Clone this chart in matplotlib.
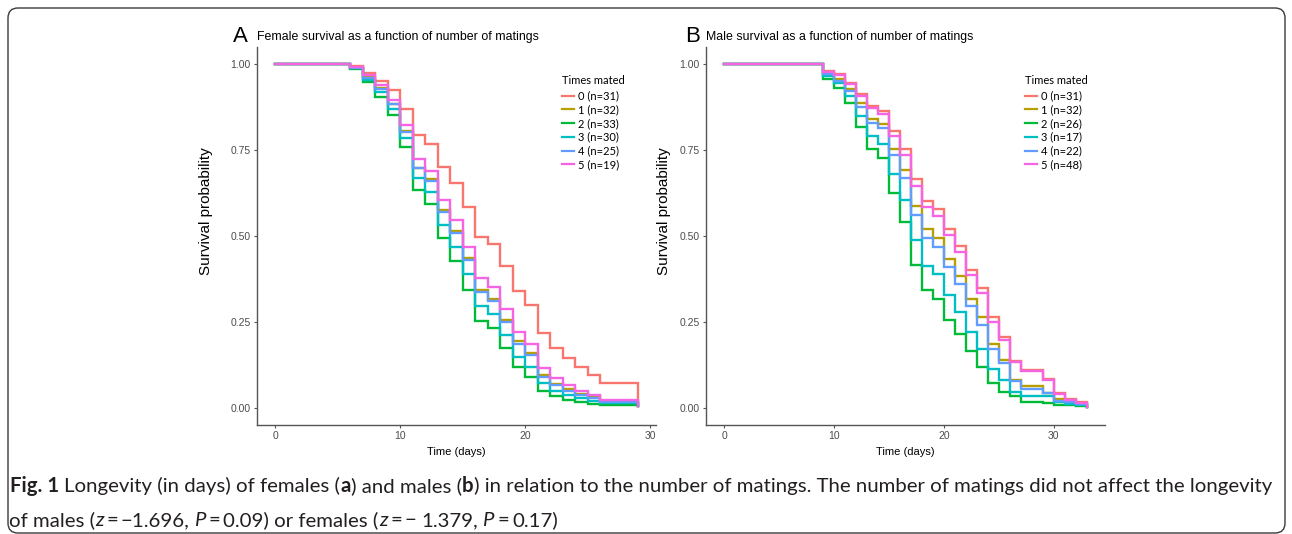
import matplotlib
matplotlib.use("Agg")
import matplotlib.pyplot as plt
from matplotlib.lines import Line2D
from matplotlib.patches import FancyBboxPatch
from matplotlib.transforms import IdentityTransform
from matplotlib.font_manager import FontProperties

# ---- data ----
groups = ["0", "1", "2", "3", "4", "5"]
female_labels = ["0 (n=31)", "1 (n=32)", "2 (n=33)", "3 (n=30)", "4 (n=25)", "5 (n=19)"]
male_labels = ["0 (n=31)", "1 (n=32)", "2 (n=26)", "3 (n=17)", "4 (n=22)", "5 (n=48)"]

female_days = [0, 6, 7, 8, 9, 10, 11, 12, 13, 14, 15, 16, 17, 18, 19, 20, 21, 22, 23, 24, 25, 26, 29]
female_surv = {
    "0": [1.0, 0.995, 0.973, 0.951, 0.924, 0.869, 0.794, 0.767, 0.700, 0.653, 0.583, 0.498, 0.477,
          0.414, 0.340, 0.299, 0.217, 0.173, 0.146, 0.118, 0.096, 0.072, 0.005],
    "1": [1.0, 0.990, 0.962, 0.930, 0.885, 0.805, 0.699, 0.666, 0.575, 0.515, 0.435, 0.343, 0.317,
          0.256, 0.193, 0.159, 0.096, 0.069, 0.054, 0.040, 0.033, 0.018, 0.005],
    "2": [1.0, 0.985, 0.949, 0.905, 0.852, 0.760, 0.634, 0.592, 0.495, 0.427, 0.343, 0.253, 0.232,
          0.173, 0.118, 0.091, 0.049, 0.033, 0.023, 0.016, 0.011, 0.009, 0.005],
    "3": [1.0, 0.988, 0.955, 0.918, 0.871, 0.784, 0.668, 0.629, 0.532, 0.469, 0.389, 0.297, 0.272,
          0.212, 0.149, 0.120, 0.072, 0.049, 0.038, 0.028, 0.020, 0.014, 0.005],
    "4": [1.0, 0.990, 0.960, 0.928, 0.884, 0.803, 0.697, 0.661, 0.570, 0.510, 0.430, 0.338, 0.312,
          0.250, 0.185, 0.154, 0.091, 0.065, 0.050, 0.036, 0.028, 0.016, 0.005],
    "5": [1.0, 0.992, 0.968, 0.940, 0.895, 0.823, 0.724, 0.689, 0.605, 0.547, 0.469, 0.377, 0.353,
          0.288, 0.220, 0.185, 0.115, 0.086, 0.067, 0.049, 0.038, 0.023, 0.005],
}

male_days = [0, 9, 10, 11, 12, 13, 14, 15, 16, 17, 18, 19, 20, 21, 22, 23, 24, 25, 26, 27, 29, 30, 31, 32, 33]
male_surv = {
    "0": [1.0, 0.981, 0.970, 0.946, 0.913, 0.878, 0.863, 0.805, 0.753, 0.665, 0.602, 0.578, 0.520,
          0.472, 0.401, 0.348, 0.263, 0.207, 0.135, 0.109, 0.084, 0.044, 0.026, 0.017, 0.003],
    "1": [1.0, 0.974, 0.958, 0.929, 0.888, 0.840, 0.826, 0.753, 0.692, 0.588, 0.520, 0.495, 0.433,
          0.385, 0.316, 0.263, 0.185, 0.140, 0.081, 0.064, 0.043, 0.025, 0.018, 0.010, 0.003],
    "2": [1.0, 0.958, 0.931, 0.888, 0.818, 0.753, 0.726, 0.624, 0.541, 0.416, 0.343, 0.317, 0.256,
          0.214, 0.164, 0.118, 0.072, 0.047, 0.033, 0.018, 0.014, 0.008, 0.008, 0.006, 0.003],
    "3": [1.0, 0.965, 0.944, 0.907, 0.849, 0.791, 0.769, 0.681, 0.605, 0.488, 0.414, 0.389, 0.328,
          0.280, 0.220, 0.172, 0.113, 0.081, 0.046, 0.035, 0.033, 0.018, 0.012, 0.008, 0.003],
    "4": [1.0, 0.971, 0.952, 0.922, 0.876, 0.829, 0.813, 0.735, 0.668, 0.562, 0.493, 0.467, 0.409,
          0.359, 0.295, 0.241, 0.172, 0.130, 0.079, 0.054, 0.043, 0.021, 0.018, 0.010, 0.003],
    "5": [1.0, 0.978, 0.968, 0.941, 0.907, 0.873, 0.856, 0.791, 0.735, 0.645, 0.585, 0.559, 0.503,
          0.454, 0.387, 0.333, 0.251, 0.198, 0.132, 0.106, 0.081, 0.041, 0.023, 0.014, 0.003],
}

x_ticks = [0, 10, 20, 30]
y_ticks = [0, 0.25, 0.5, 0.75, 1.0]
y_tick_labels = ["0.00", "0.25", "0.50", "0.75", "1.00"]

colors = ["#F8766D", "#B79F00", "#00BA38", "#00BFC4", "#619CFF", "#F564E3"]

W, H = 1292, 534
ARIAL = ["Liberation Sans", "DejaVu Sans"]
MYRIAD = ["Lato", "DejaVu Sans"]
CAPTION = ["Liberation Sans Narrow", "Lato", "DejaVu Sans"]

fig = plt.figure(figsize=(W / 100, H / 100), dpi=100)


def axes_px(left, top, right, bottom):
    return fig.add_axes([left / W, 1 - bottom / H, (right - left) / W, (bottom - top) / H])


def survival_panel(ax, days, surv, labels, xmax, ylab_x, leg_x):
    for g, c in zip(groups, colors):
        ax.step(days, surv[g], where="post", color=c, lw=1.7, solid_joinstyle="miter")
    ax.set_xlim(-0.05 * xmax, 1.05 * xmax)
    ax.set_ylim(-0.05, 1.05)
    ax.set_xticks(x_ticks)
    ax.set_yticks(y_ticks)
    ax.set_yticklabels(y_tick_labels)
    for s in ["top", "right"]:
        ax.spines[s].set_visible(False)
    for s in ["left", "bottom"]:
        ax.spines[s].set_color("#555555")
        ax.spines[s].set_linewidth(1.0)
    ax.tick_params(length=2.5, width=0.8, color="#555555", labelsize=7.5,
                   labelcolor="#4D4D4D", pad=2)
    for t in ax.get_xticklabels() + ax.get_yticklabels():
        t.set_family(ARIAL)
    ax.set_xlabel("Time (days)", fontsize=8, family=ARIAL, color="black")
    ax.xaxis.set_label_coords(0.5, -0.058)
    ax.set_ylabel("Survival probability", fontsize=11, family=ARIAL, color="black")
    ax.yaxis.set_label_coords(ylab_x, 0.565)
    handles = [Line2D([], [], color=c, lw=1.6) for c in colors]
    leg = ax.legend(handles, labels, title="Times mated", loc="upper left",
                    bbox_to_anchor=(leg_x, 0.927), frameon=False, borderaxespad=0,
                    borderpad=0, handlelength=1.1, handletextpad=0.3, labelspacing=0.25,
                    prop={"family": MYRIAD, "size": 8},
                    title_fontproperties={"family": MYRIAD, "size": 8}, alignment="left")
    leg._legend_box.sep = 3.5


axA = axes_px(257, 47, 656, 425)
axB = axes_px(706, 47, 1105, 425)
survival_panel(axA, female_days, female_surv, female_labels, 29, -0.11, 0.765)
survival_panel(axB, male_days, male_surv, male_labels, 33, -0.088, 0.80)

# panel titles
fig.text(233 / W, 1 - 41.5 / H, "A", fontsize=16, family=ARIAL, va="baseline")
fig.text(257 / W, 1 - 40 / H, "Female survival as a function of number of matings",
         fontsize=8.9, family=ARIAL, va="baseline")
fig.text(685 / W, 1 - 41.5 / H, "B", fontsize=16, family=ARIAL, va="baseline")
fig.text(706 / W, 1 - 40 / H, "Male survival as a function of number of matings",
         fontsize=8.9, family=ARIAL, va="baseline")

# outer rounded frame
frame = FancyBboxPatch((8, 1), 1277, 525, boxstyle="round,pad=0,rounding_size=10",
                       transform=IdentityTransform(), fill=False, ec="#3a3a3a", lw=1.0)
fig.add_artist(frame)

# caption
fig.canvas.draw()
r = fig.canvas.get_renderer()

line1 = [("Fig. 1", "bold", "normal", 0),
         ("Longevity (in days) of females (", "normal", "normal", 1),
         ("a", "bold", "normal", 0),
         (") and males (", "normal", "normal", 0),
         ("b", "bold", "normal", 0),
         (") in relation to the number of matings. The number of matings did not affect the longevity",
          "normal", "normal", 0)]
line2 = [("of males (", "normal", "normal", 0),
         ("z", "normal", "italic", 0),
         ("=", "normal", "normal", 0.5),
         ("\u22121.696,", "normal", "normal", 0.5),
         ("P", "normal", "italic", 1),
         ("=", "normal", "normal", 0.5),
         ("0.09) or females (", "normal", "normal", 0.5),
         ("z", "normal", "italic", 0),
         ("=", "normal", "normal", 0.5),
         ("\u2212", "normal", "normal", 0.5),
         ("1.379,", "normal", "normal", 1),
         ("P", "normal", "italic", 1),
         ("=", "normal", "normal", 0.5),
         ("0.17)", "normal", "normal", 0.5)]


def text_w(text, fs, weight="normal", style="normal"):
    fp = FontProperties(family=CAPTION, size=fs, weight=weight, style=style)
    return r.get_text_width_height_descent(text, fp, ismath=False)[0]


def run_width(pieces, fs):
    sp = text_w("a a", fs) - text_w("aa", fs)
    return sum(text_w(t, fs, w, s) + g * sp for t, w, s, g in pieces)


def draw_run(pieces, x, y, fs):
    sp = text_w("a a", fs) - text_w("aa", fs)
    cur = x
    for t, w, s, g in pieces:
        cur += g * sp
        fig.text(cur, H - y, t, transform=IdentityTransform(), fontsize=fs, fontweight=w,
                 fontstyle=s, family=CAPTION, va="baseline", ha="left", color="#231F20")
        cur += text_w(t, fs, w, s)


fs_cap = 12 * (1268 - 10) / run_width(line1, 12)
draw_run(line1, 10, 492, fs_cap)
draw_run(line2, 9, 526, fs_cap)

fig.savefig("out.png", dpi=100)
